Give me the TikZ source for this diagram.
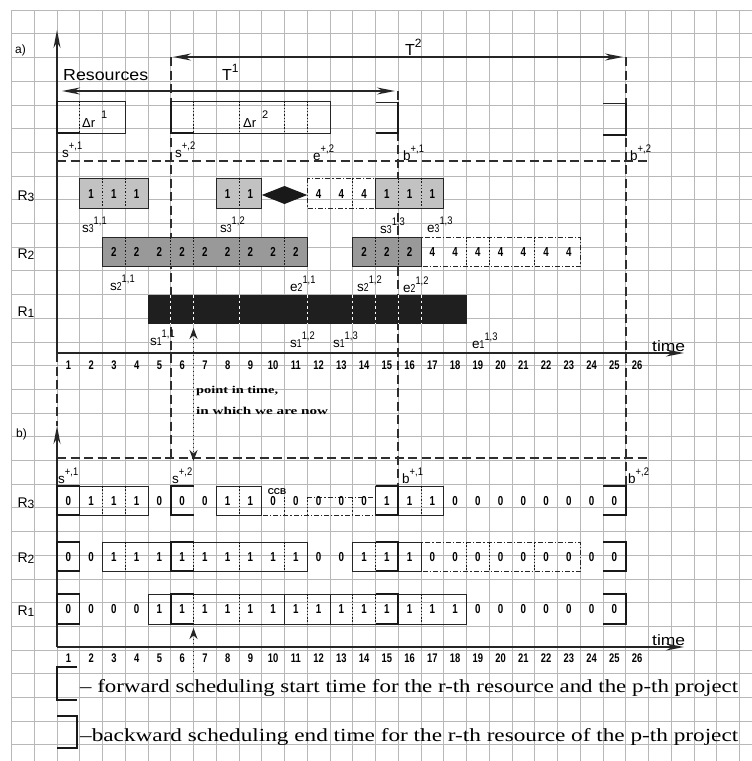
\documentclass[tikz,border=0pt]{standalone}
\usepackage{graphicx}
\usepackage{fontspec}
\setmainfont{Liberation Sans}
\newfontfamily\serifx{Liberation Serif}
\usetikzlibrary{arrows.meta}
\tikzset{bigT/.tip={Stealth[length=18pt,width=7pt]},
         smT/.tip={Stealth[length=11pt,width=8pt]}}
\newcommand\cx[1]{(57+22.75*(#1))}
\newcommand\nar[1]{\scalebox{0.75}[1]{#1}}
\newcommand\lb[3]{{\fontsize{13.5}{13.5}\selectfont #1}{\fontsize{11.5}{11.5}\selectfont\nar{#2}}\raisebox{8pt}{\fontsize{11}{11}\selectfont\scalebox{0.85}[1]{#3}}}
\newcommand\fbr[3]{\draw[brk] ({\cx{#1}},#2) -- ({\cx{#1-1}},#2) -- ({\cx{#1-1}},#3) -- ({\cx{#1}},#3);}
\newcommand\bbr[3]{\draw[brk] ({\cx{#1-1}},#2) -- ({\cx{#1}},#2) -- ({\cx{#1}},#3) -- ({\cx{#1-1}},#3);}
\newcommand\cbox[5][boxln]{\draw[#1] ({\cx{#2}},#4) rectangle ({\cx{#3}},#5);}
\newcommand\seps[4][sepln]{\foreach \sx in {#2} {\draw[#1] ({\cx{\sx}},#3) -- ({\cx{\sx}},#4);}}
\newcommand\vrow[3]{\foreach \kk/\vv in {#3} {\node[val] (#1-\kk) at ({\cx{\kk-0.5}},#2) {\nar{\vv}};}}
\begin{document}
\begin{tikzpicture}[x=1pt,y=-1pt,
  gridln/.style={draw=black!28, line width=0.6pt},
  boxln/.style={draw=black!85, line width=0.9pt},
  brk/.style={draw=black!90, line width=2.4pt},
  sepln/.style={draw=black!90, line width=1pt, dash pattern=on 1.5pt off 1.8pt},
  wsep/.style={draw=white, line width=1pt, dash pattern=on 2.5pt off 3pt},
  ddash/.style={draw=black!85, line width=0.9pt, dash pattern=on 5pt off 2pt on 1.2pt off 2pt},
  bigdash/.style={draw=black!82, line width=2.4pt, dash pattern=on 9pt off 4.5pt},
  axisln/.style={draw=black!85, line width=1.8pt},
  dotln/.style={draw=black!85, line width=1.6pt, dash pattern=on 1.6pt off 2.4pt},
  num/.style={inner sep=0pt, font=\fontsize{12.5}{13}\selectfont\bfseries},
  val/.style={inner sep=0pt, font=\fontsize{13}{13}\selectfont\bfseries},
  lab/.style={inner sep=0pt, anchor=base west},
  txt/.style={inner sep=0pt},
  lgray/.style={fill=black!24},
  dgray/.style={fill=black!40},
]
\useasboundingbox (0,0) rectangle (752,761);
\fill[white] (0,0) rectangle (752,761);
% ---------------- grid
\foreach \j in {-2,...,30} {\draw[gridln] ({\cx{\j}},10) -- ({\cx{\j}},761);}
\foreach \i in {0,...,31} {\draw[gridln] (11.5,{10+23.7*\i}) -- (752,{10+23.7*\i});}

% ---------------- dashed guide lines
\coordinate (oa) at (57,353);
\coordinate (ob) at (57,647);
\coordinate (s2t) at ({\cx{5}},57);  \coordinate (s2b) at ({\cx{5}},458);
\coordinate (b1t) at ({\cx{15}},91); \coordinate (b1b) at ({\cx{15}},486);
\coordinate (b2t) at ({\cx{25}},57); \coordinate (b2b) at ({\cx{25}},486);
\coordinate (ha1) at (57,161); \coordinate (ha2) at (648,161);
\coordinate (hb1) at (57,458); \coordinate (hb2) at (648,458);
\draw[bigdash] (oa) -- (57,426);
\draw[bigdash] (s2t) -- (s2b);
\draw[bigdash] (b1t) -- (b1b);
\draw[bigdash] (b2t) -- (b2b);
\draw[bigdash] (ha1) -- (ha2);
\draw[bigdash] (hb1) -- (hb2);

% ================= part a)
\node[lab, font=\fontsize{12}{12}\selectfont] (la) at (15,53) {a)};
\coordinate (ya) at (57,30);
\coordinate (xa) at (684,353);
\draw[axisln, -bigT] (oa) -- (ya);
\draw[axisln, -bigT] (oa) -- (xa);
\node[lab, font=\fontsize{15}{15}\selectfont] (timea) at (652,351) {\resizebox{33pt}{\height}{time}};
\foreach \kk in {1,...,26} {\node[num] (na\kk) at ({\cx{\kk-0.5}},365) {\nar{\kk}};}

% T arrows
\coordinate (t2l) at (173,57); \coordinate (t2r) at (623,57);
\coordinate (t1l) at (62,91);  \coordinate (t1r) at (395,91);
\draw[axisln, bigT-bigT] (t2l) -- (t2r);
\draw[axisln, bigT-bigT] (t1l) -- (t1r);
\node[lab, font=\fontsize{16}{16}\selectfont] (T2) at (405,55) {T\raisebox{8pt}{\fontsize{12}{12}\selectfont 2}};
\node[lab, font=\fontsize{16}{16}\selectfont] (T1) at (222,80) {T\raisebox{8pt}{\fontsize{12}{12}\selectfont 1}};
\node[lab, font=\fontsize{16}{16}\selectfont] (res) at (63,80) {\resizebox{85pt}{\height}{Resources}};

% Delta r boxes
\cbox{0}{3}{101}{133} \seps{1}{101}{133}
\cbox{5}{12}{101}{133} \seps{6,8,10,11}{101}{133}
\draw[brk] ({\cx{0}},101) -- ({\cx{0}},133) -- ({\cx{1}},133);
\draw[brk] ({\cx{5}},101) -- ({\cx{5}},133) -- ({\cx{6}},133);
\draw[boxln] ({\cx{14}},102) -- ({\cx{15}},102);
\draw[brk] ({\cx{15}},102) -- ({\cx{15}},133) -- ({\cx{14}},133);
\draw[boxln] ({\cx{24}},103) -- ({\cx{25}},103);
\draw[brk] ({\cx{25}},103) -- ({\cx{25}},135) -- ({\cx{24}},135);
\node[lab, font=\fontsize{13}{13}\selectfont] (dr1) at (82,127) {Δr\hspace{6pt}\raisebox{9pt}{\fontsize{11}{11}\selectfont 1}};
\node[lab, font=\fontsize{13}{13}\selectfont] (dr2) at (243,127) {Δr\hspace{6pt}\raisebox{9pt}{\fontsize{11}{11}\selectfont 2}};

% marks on the dashed line
\node[lab] (sp1a) at (62,157) {\lb{s}{}{+,1}};
\node[lab] (sp2a) at (175,157) {\lb{s}{}{+,2}};
\node[lab] (ep2a) at (313,160) {\lb{e}{}{+,2}};
\node[lab] (bp1a) at (403,160) {\lb{b}{}{+,1}};
\node[lab] (bp2a) at (630,160) {\lb{b}{}{+,2}};

% row labels a
\node[txt, font=\fontsize{14}{14}\selectfont] (R3a) at (26,196) {R\raisebox{-1pt}{\fontsize{12}{12}\selectfont 3}};
\node[txt, font=\fontsize{14}{14}\selectfont] (R2a) at (26,254) {R\raisebox{-1pt}{\fontsize{12}{12}\selectfont 2}};
\node[txt, font=\fontsize{14}{14}\selectfont] (R1a) at (26,312) {R\raisebox{-1pt}{\fontsize{12}{12}\selectfont 1}};

% R3 a
\cbox[boxln,lgray]{1}{4}{178}{208} \seps{2,3}{178}{208}
\cbox[boxln,lgray]{7}{9}{178}{208} \seps{8}{178}{208}
\fill[black!90] ({\cx{9}},195) -- ({\cx{10}},186) -- ({\cx{11}},195) -- ({\cx{10}},204) -- cycle;
\cbox[ddash]{11}{14}{178}{208} \seps{13}{178}{208}
\cbox[boxln,lgray]{14}{17}{178}{208} \seps{15,16}{178}{208}
\vrow{r3a}{194}{2/1,3/1,4/1,8/1,9/1,12/4,13/4,14/4,15/1,16/1,17/1}
\node[lab] (s311) at (82,232) {\lb{s}{3}{1,1}};
\node[lab] (s312) at (220,232) {\lb{s}{3}{1,2}};
\node[lab] (s313) at (380,233) {\lb{s}{3}{1,3}};
\node[lab] (e313) at (427,232) {\lb{e}{3}{1,3}};

% R2 a
\cbox[boxln,dgray]{2}{11}{237}{266} \seps{3,5,6,8,10}{237}{266}
\cbox[boxln,dgray]{13}{16}{237}{266} \seps{14,15}{237}{266}
\cbox[ddash]{16}{23}{237}{266} \seps{18,19,21}{237}{266}
\vrow{r2a}{252}{3/2,4/2,5/2,6/2,7/2,8/2,9/2,10/2,11/2,14/2,15/2,16/2,17/4,18/4,19/4,20/4,21/4,22/4,23/4}
\node[lab] (s211) at (110,290) {\lb{s}{2}{1,1}};
\node[lab] (e211) at (290,291) {\lb{e}{2}{1,1}};
\node[lab] (s212) at (357,291) {\lb{s}{2}{1,2}};
\node[lab] (e212) at (403,292) {\lb{e}{2}{1,2}};

% R1 a
\fill[black!88] ({\cx{4}},295) rectangle ({\cx{18}},324);
\seps[wsep]{5,6,8,11,13,14,15,16}{295}{324}
\node[lab] (s111) at (150,345) {\lb{s}{1}{1,1}};
\node[lab] (s112) at (290,347) {\lb{s}{1}{1,2}};
\node[lab] (s113) at (333,347) {\lb{s}{1}{1,3}};
\node[lab] (e113) at (472,348) {\lb{e}{1}{1,3}};

% point in time
\coordinate (pa1) at ({\cx{6}},328); \coordinate (pa2) at ({\cx{6}},461);
\draw[dotln, smT-smT] (pa1) -- (pa2);
\node[lab, font=\serifx\bfseries\fontsize{10.5}{10.5}\selectfont] (pit1) at (196,393) {\resizebox{82pt}{\height}{point in time,}};
\node[lab, font=\serifx\bfseries\fontsize{10.5}{10.5}\selectfont] (pit2) at (196,414) {\resizebox{132pt}{\height}{in which we are now}};

% ================= part b)
\node[lab, font=\fontsize{12}{12}\selectfont] (lbb) at (16,437) {b)};
\coordinate (yb) at (57,426);
\coordinate (xb) at (684,647);
\draw[axisln, -bigT] (ob) -- (yb);
\draw[axisln, -bigT] (ob) -- (xb);
\node[lab, font=\fontsize{15}{15}\selectfont] (timeb) at (652,645) {\resizebox{33pt}{\height}{time}};
\foreach \kk in {1,...,26} {\node[num] (nb\kk) at ({\cx{\kk-0.5}},658) {\nar{\kk}};}
\coordinate (pb1) at ({\cx{6}},628); \coordinate (pb2) at ({\cx{6}},672);
\draw[dotln, smT-] (pb1) -- (pb2);

\node[lab] (sp1b) at (58,483) {\lb{s}{}{+,1}};
\node[lab] (sp2b) at (172,483) {\lb{s}{}{+,2}};
\node[lab] (bp1b) at (402,483) {\lb{b}{}{+,1}};
\node[lab] (bp2b) at (628,483) {\lb{b}{}{+,2}};

\node[txt, font=\fontsize{14}{14}\selectfont] (R3b) at (26,503) {R\raisebox{-1pt}{\fontsize{12}{12}\selectfont 3}};
\node[txt, font=\fontsize{14}{14}\selectfont] (R2b) at (26,558) {R\raisebox{-1pt}{\fontsize{12}{12}\selectfont 2}};
\node[txt, font=\fontsize{14}{14}\selectfont] (R1b) at (26,611) {R\raisebox{-1pt}{\fontsize{12}{12}\selectfont 1}};

% R3 b
\cbox{0}{1}{486}{515}
\cbox{1}{4}{486}{515} \seps{2,3}{486}{515}
\cbox{7}{9}{486}{515} \seps{8}{486}{515}
\draw[ddash] ({\cx{11}},497) -- ({\cx{14}},497) -- ({\cx{14}},515) -- ({\cx{9}},515);
\seps{10,11,13}{497}{515}
\node[txt, font=\bfseries\fontsize{8.5}{8.5}\selectfont] (ccb) at (277,492) {CCB};
\cbox{14}{15}{486}{515}
\cbox{15}{17}{486}{515} \seps{16}{486}{515}
\fbr{1}{486}{515} \fbr{6}{486}{515} \bbr{15}{486}{515} \bbr{25}{486}{515}
\vrow{r3b}{501}{1/0,2/1,3/1,4/1,5/0,6/0,7/0,8/1,9/1,10/0,11/0,12/0,13/0,14/0,15/1,16/1,17/1,18/0,19/0,20/0,21/0,22/0,23/0,24/0,25/0}

% R2 b
\cbox{0}{1}{542}{571}
\cbox{2}{5}{542}{571} \seps{3}{542}{571}
\cbox{5}{11}{542}{571} \seps{6,8,10}{542}{571}
\cbox{13}{15}{542}{571} \seps{14}{542}{571}
\cbox{15}{16}{542}{571}
\cbox[ddash]{16}{23}{542}{571} \seps{18,19,21}{542}{571}
\fbr{1}{542}{571} \fbr{6}{542}{571} \bbr{15}{542}{571} \bbr{25}{542}{571}
\vrow{r2b}{557}{1/0,2/0,3/1,4/1,5/1,6/1,7/1,8/1,9/1,10/1,11/1,12/0,13/0,14/1,15/1,16/1,17/0,18/0,19/0,20/0,21/0,22/0,23/0,24/0,25/0}

% R1 b
\cbox{0}{1}{594}{624}
\cbox{4}{5}{594}{624}
\cbox{5}{10}{594}{624} \seps{6,8}{594}{624}
\cbox{10}{12}{594}{624} \seps{11}{594}{624}
\cbox{12}{15}{594}{624} \seps{13,14}{594}{624}
\cbox{15}{18}{594}{624} \seps{16}{594}{624}
\fbr{1}{594}{624} \fbr{6}{594}{624} \bbr{15}{594}{624} \bbr{25}{594}{624}
\vrow{r1b}{609}{1/0,2/0,3/0,4/0,5/1,6/1,7/1,8/1,9/1,10/1,11/1,12/1,13/1,14/1,15/1,16/1,17/1,18/1,19/0,20/0,21/0,22/0,23/0,24/0,25/0}

% ================= legend
\draw[brk] (77,667) -- (57,667) -- (57,700) -- (77,700);
\node[lab, font=\serifx\fontsize{18.5}{18.5}\selectfont] (leg1) at (80,692) {\resizebox{658pt}{\height}{– forward scheduling start time for the r-th resource and the p-th project}};
\draw[brk] (57,716) -- (77,716) -- (77,748) -- (57,748);
\node[lab, font=\serifx\fontsize{18.5}{18.5}\selectfont] (leg2) at (80,741) {\resizebox{658pt}{\height}{–backward scheduling end time for the r-th resource of the p-th project}};
\end{tikzpicture}
\end{document}
